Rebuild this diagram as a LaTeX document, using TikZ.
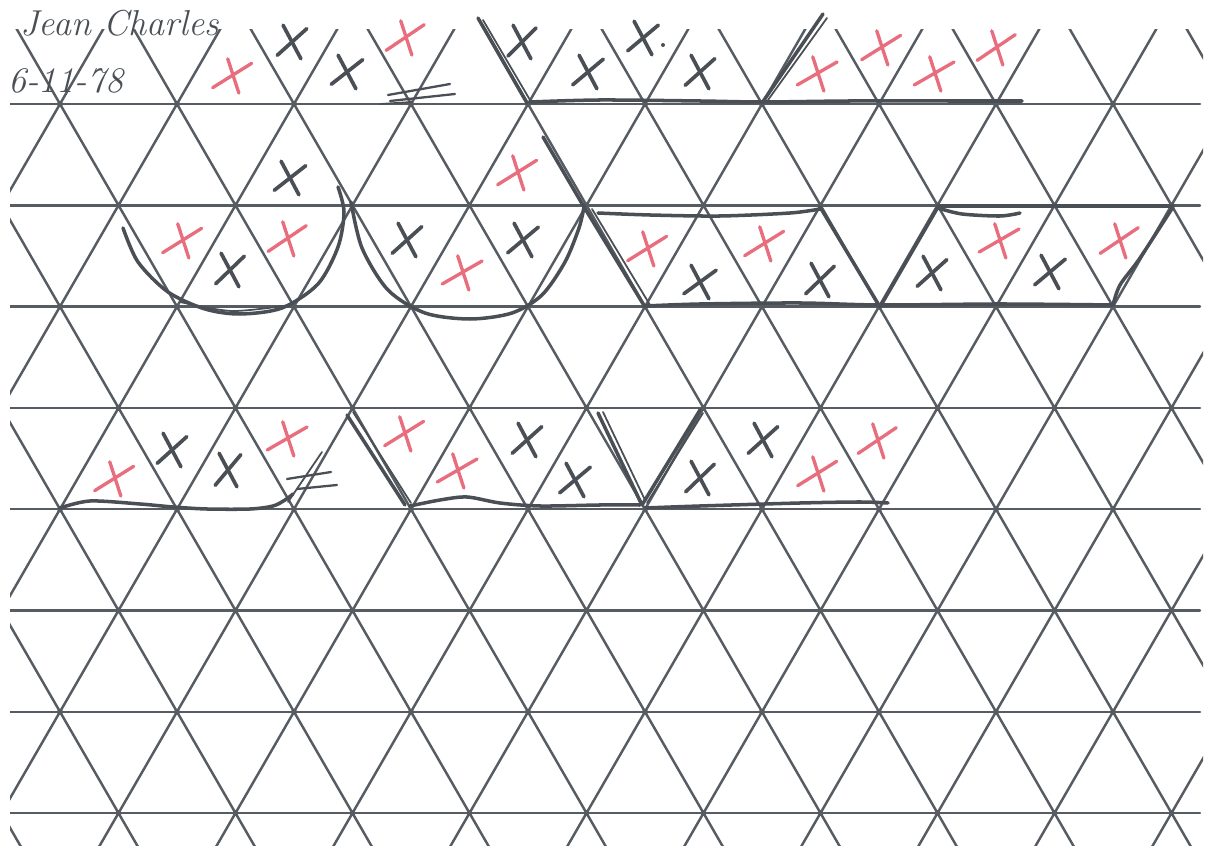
\documentclass[tikz,border=0pt]{standalone}
\usepackage{tikz}
\usetikzlibrary{positioning}
\definecolor{gridcol}{HTML}{565C62}
\definecolor{pencol}{HTML}{4A4F55}
\definecolor{redcol}{HTML}{E86D7D}

\begin{document}
\begin{tikzpicture}[x=0.02cm, y=-0.02cm, line cap=round, line join=round,
  gridline/.style={gridcol, line width=1.4pt},
  outline/.style={pencol, line width=2pt},
  thinline/.style={pencol, line width=1pt},
  xmark/.style={pencol, line width=2.1pt},
  rmark/.style={redcol, line width=1.9pt},
  hand/.style={pencol, font=\itshape\fontsize{20.5}{23}\selectfont,
               inner sep=0pt, anchor=base west}]

\useasboundingbox (0,0) rectangle (1208,854);

% ================================================ the triangle grid
\begin{scope}
  \clip (10,30) rectangle (1203,846);
  \foreach \r in {0,...,7}
    \draw[gridline] (10,104+101.3*\r) -- (1200,104+101.3*\r);
  \foreach \k in {-4,...,14} {
    \draw[gridline] ({60+117*\k+60.06},0) -- ({60+117*\k-459.7},900);
    \draw[gridline] ({60+117*\k-60.06},0) -- ({60+117*\k+459.7},900);
  }
  \foreach \r in {0,...,7}
    \foreach \k in {0,...,10}
      \fill[gridcol] ({60+58.5*mod(\r,2)+117*\k},{104+101.3*\r}) circle (3);
\end{scope}

% ================================================ name and date
\node[hand] (who) at (20,36) {Jean Charles};
\node[hand] (date) at (8,93) {6-11-78};

% ================================================ crosses
% dark ones: two strokes, about 45 and -62 degrees
\foreach \x/\y/\a in {292/42/42, 347/72/38, 522/42/45, 588/72/40, 643/38/40,
                      700/72/42, 290/178/38, 230/270/44, 407/240/42, 523/240/40,
                      700/282/36, 820/280/44, 932/273/42, 1050/272/40,
                      172/450/42, 228/470/50, 527/440/42, 575/480/40,
                      700/478/44, 763/440/42} {
  \draw[xmark, rotate around={\a:(\x,\y)}] (\x-20,\y) -- (\x+20,\y);
  \draw[xmark, rotate around={-62:(\x,\y)}] (\x-19,\y) -- (\x+19,\y);
}
\fill[pencol] (663,45) circle (2);

% red ones: a long stroke near 32 degrees and a steep short one
\foreach \x/\y/\a in {233/75/32, 406/37/34, 818/73/30, 882/47/32, 935/73/30,
                      997/47/34, 518/172/32, 183/240/32, 288/238/34, 463/272/30,
                      648/248/32, 765/243/32, 1000/240/30, 1120/240/34,
                      115/478/32, 288/438/30, 405/433/32, 458/470/30,
                      818/473/32, 878/440/34} {
  \draw[rmark, rotate around={\a:(\x,\y)}] (\x-24,\y) -- (\x+22,\y);
  \draw[rmark, rotate around={-72:(\x,\y)}] (\x-17,\y) -- (\x+19,\y);
}

% ================================================ top band
\draw[outline] (478,18) -- (527,103);
\draw[thinline] (483,20) -- (530,100);
\draw[outline] plot[smooth] coordinates {(530,102) (600,100) (700,101)
  (762,102) (850,101) (950,101) (1022,101)};
\draw[outline] (762,103) -- (823,14);
\draw[thinline] (768,100) -- (827,18);
\draw[thinline, line width=1.3pt] (388,95) -- (450,84);
\draw[thinline, line width=1.3pt] (390,101) -- (455,94);
\draw[thinline] (380,104) -- (412,102);

% ================================================ rounded groups
\draw[outline] plot[smooth] coordinates {(123,228) (138,262) (168,292)
  (205,309) (240,314) (282,308) (318,284) (338,247) (344,212) (338,187)};
\draw[thinline] plot[smooth] coordinates {(180,302) (232,311) (290,305)};
\draw[outline] plot[smooth] coordinates {(351,202) (362,248) (388,290)
  (425,313) (470,319) (512,313) (542,295) (565,262) (579,228) (584,207)};
\draw[outline] (584,207) -- (543,137);

% ================================================ band 1 parallelograms
\draw[outline] (584,207) -- (645,307);
\draw[thinline] (592,209) -- (650,305);
\draw[outline] plot[smooth] coordinates {(598,213) (650,215) (720,216)
  (790,213) (820,209)};
\draw[outline] (820,207) -- (880,307);
\draw[outline] plot[smooth] coordinates {(645,306) (700,304) (800,303)
  (880,305) (1000,304) (1113,305)};
\draw[outline] (880,307) -- (938,207);
\draw[outline] plot[smooth] coordinates {(938,208) (962,214) (1000,216)
  (1020,213)};
\draw[outline] (938,206) -- (1173,206);
\draw[outline] plot[smooth] coordinates {(1113,305) (1120,285) (1140,258)
  (1173,207)};

% ================================================ band 3
\draw[outline] plot[smooth] coordinates {(60,508) (90,501) (140,504)
  (173,507) (207,509) (250,509) (273,506) (285,500) (293,494)};
\draw[thinline, line width=1.3pt] (287,479) -- (331,472);
\draw[thinline, line width=1.3pt] (297,489) -- (337,485);
\draw[thinline] (288,502) -- (322,452);

\draw[outline] (347,415) -- (405,505);
\draw[thinline] (353,412) -- (411,503);
\draw[outline] plot[smooth] coordinates {(410,506) (440,500) (467,497)
  (500,503) (540,506) (600,505) (640,505)};
\draw[outline] (598,413) -- (641,503);
\draw[thinline] (603,412) -- (645,500);

\draw[outline] (642,505) -- (700,410);
\draw[thinline] (647,503) -- (703,413);
\draw[outline] plot[smooth] coordinates {(645,508) (700,506) (800,503)
  (860,502) (888,503)};

\end{tikzpicture}
\end{document}
